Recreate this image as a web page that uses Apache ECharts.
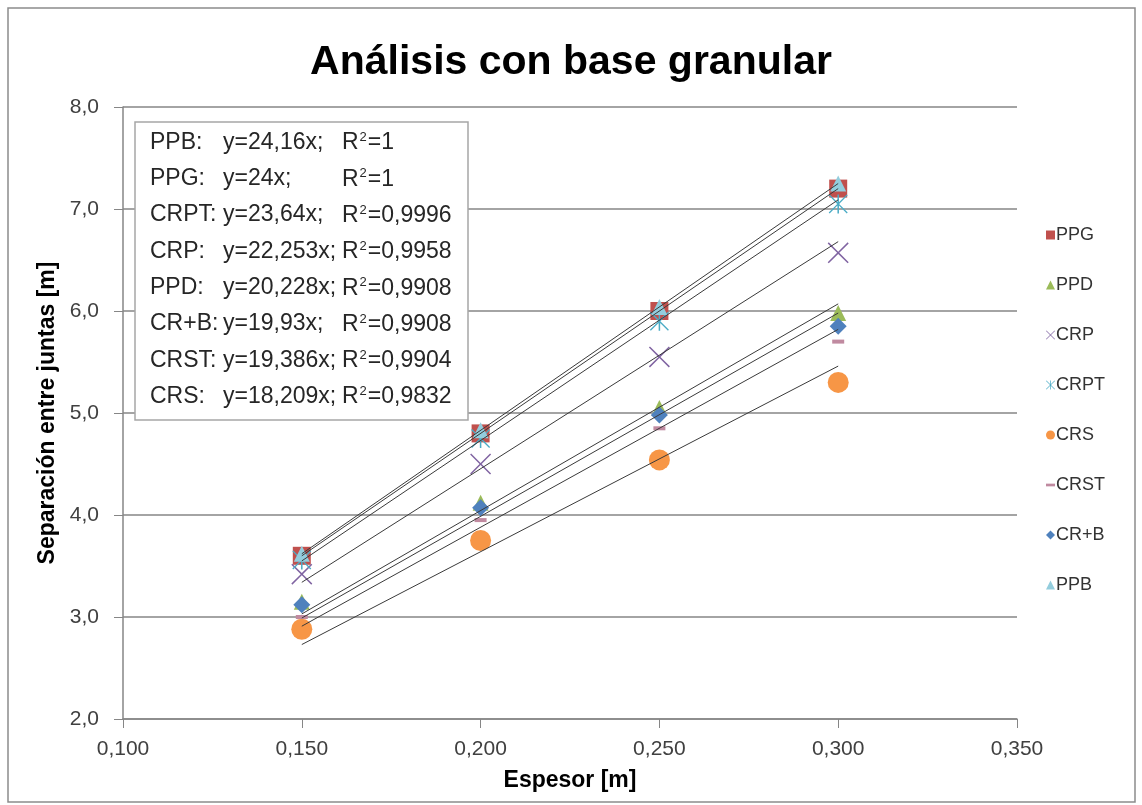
<!DOCTYPE html>
<html>
<head>
<meta charset="utf-8">
<title>Análisis con base granular</title>
<script src="https://cdn.jsdelivr.net/npm/echarts@6/dist/echarts.min.js"></script>
<style>
  html, body { margin: 0; padding: 0; background: #fff; }
  #myChart { width: 1142px; height: 805px; }
</style>
</head>
<body>
<div id="myChart"></div>
<script>
// espesores (m)
const espesor = [0.15, 0.20, 0.25, 0.30];

// separación entre juntas (m)
const PPG  = [3.60, 4.80, 6.00, 7.20];
const PPD  = [3.15, 4.12, 5.05, 5.98];
const CRP  = [3.42, 4.50, 5.55, 6.57];
const CRPT = [3.56, 4.75, 5.90, 7.05];
const CRS  = [2.88, 3.75, 4.54, 5.30];
const CRST = [3.00, 3.95, 4.85, 5.70];
const CRB  = [3.12, 4.07, 4.98, 5.85];
const PPB  = [3.62, 4.83, 6.04, 7.25];

// líneas de tendencia: valores en x = 0,150 y x = 0,300
const trendX     = [0.15, 0.30];
const trendPPB   = [3.62, 7.25];
const trendPPG   = [3.60, 7.20];
const trendCRPT  = [3.55, 7.09];
const trendCRP   = [3.34, 6.68];
const trendPPD   = [3.03, 6.07];
const trendCRB   = [2.99, 5.98];
const trendCRST  = [2.91, 5.82];
const trendCRS   = [2.73, 5.46];

// texto del recuadro de ecuaciones
const eqLabels = ['PPB:', 'PPG:', 'CRPT:', 'CRP:', 'PPD:', 'CR+B:', 'CRST:', 'CRS:'];
const eqFormulas = ['y=24,16x;', 'y=24x;', 'y=23,64x;', 'y=22,253x;', 'y=20,228x;', 'y=19,93x;', 'y=19,386x;', 'y=18,209x;'];
const eqR2 = ['1', '1', '0,9996', '0,9958', '0,9908', '0,9908', '0,9904', '0,9832'];

const xTicks = { min: 0.1, max: 0.35, interval: 0.05 };
const yTicks = { min: 2, max: 8, interval: 1 };

const xPath = 'path://M0,1L1,0L10,9L19,0L20,1L11,10L20,19L19,20L10,11L1,20L0,19L9,10Z';
const starPath = 'path://M0,1L1,0L10,9L19,0L20,1L11,10L20,19L19,20L10,11L1,20L0,19L9,10Z M9.2,0L10.8,0L10.8,20L9.2,20Z';
const dashPath = 'path://M0,0L10,0L10,3L0,3Z';

function pts(ys) { return espesor.map((x, i) => [x, ys[i]]); }
function line(ys) { return trendX.map((x, i) => [x, ys[i]]); }

let myChart = echarts.init(document.getElementById('myChart'));

let scatterDefs = [
  { name: 'PPG',  data: PPG,  symbol: 'rect',     size: 18, color: '#C0504D' },
  { name: 'PPD',  data: PPD,  symbol: 'triangle', size: 16, color: '#9BBB59' },
  { name: 'CRP',  data: CRP,  symbol: xPath,      size: 21, color: '#8064A2' },
  { name: 'CRPT', data: CRPT, symbol: starPath,   size: 19, color: '#4BACC6' },
  { name: 'CRS',  data: CRS,  symbol: 'circle',   size: 21, color: '#F79646' },
  { name: 'CRST', data: CRST, symbol: dashPath,   size: [12, 4], color: '#C08AA0' },
  { name: 'CR+B', data: CRB,  symbol: 'diamond',  size: 17, color: '#4F81BD' },
  { name: 'PPB',  data: PPB,  symbol: 'triangle', size: 16, color: '#93CDDD' }
];

let trends = [trendPPB, trendPPG, trendCRPT, trendCRP, trendPPD, trendCRB, trendCRST, trendCRS];

let series = scatterDefs.map(d => ({
  name: d.name,
  type: 'scatter',
  data: pts(d.data),
  symbol: d.symbol,
  symbolSize: d.size,
  itemStyle: { color: d.color, opacity: 1 }
}));

trends.forEach((t, i) => {
  series.push({
    name: 'tendencia ' + i,
    type: 'line',
    data: line(t),
    symbol: 'none',
    silent: true,
    z: 3,
    lineStyle: { color: '#3a3a3a', width: 1 }
  });
});

// recuadro de ecuaciones
let eqFont = '23px Arial, "Liberation Sans", sans-serif';
let measure = document.createElement('canvas').getContext('2d');
measure.font = eqFont;
function textW(s) { return measure.measureText(s).width; }

let eqGraphics = [{
  type: 'rect',
  shape: { x: 135, y: 122, width: 333, height: 298 },
  style: { fill: '#fff', stroke: '#a6a6a6', lineWidth: 1.5 },
  z: 100
}];
eqLabels.forEach((lab, i) => {
  let y = 143 + i * 36.3;
  let fx = Math.max(223, 150 + textW(lab) + 1);
  let rx = Math.max(342, fx + textW(eqFormulas[i]) - 1);
  eqGraphics.push({ type: 'text', left: 150, top: y - 12, z: 101,
    style: { text: lab, font: eqFont, fill: '#262626' } });
  eqGraphics.push({ type: 'text', left: fx, top: y - 12, z: 101,
    style: { text: eqFormulas[i], font: eqFont, fill: '#262626' } });
  eqGraphics.push({ type: 'text', left: rx, top: y - 12, z: 101,
    style: { text: '{a|R}{s|2}{a|=' + eqR2[i] + '}', fill: '#262626',
      rich: {
        a: { fontFamily: 'Arial', fontSize: 23, fill: '#262626' },
        s: { fontFamily: 'Arial', fontSize: 13, verticalAlign: 'top', padding: [0, 1, 11, 1], fill: '#262626' }
      } } });
});

let option = {
  backgroundColor: '#fff',
  animation: false,
  title: {
    text: 'Análisis con base granular',
    left: 'center',
    top: 37,
    textStyle: { fontFamily: 'Arial', fontSize: 41, fontWeight: 'bold', color: '#000' }
  },
  legend: {
    orient: 'vertical',
    left: 1041,
    top: 221,
    itemGap: 32,
    itemWidth: 9,
    itemHeight: 9,
    selectedMode: false,
    data: scatterDefs.map(d => d.name),
    textStyle: { fontFamily: 'Arial', fontSize: 18, color: '#333', padding: [0, 0, 0, -4] }
  },
  grid: { left: 123, right: 125, top: 107, bottom: 86 },
  xAxis: {
    type: 'value',
    min: xTicks.min,
    max: xTicks.max,
    interval: xTicks.interval,
    name: 'Espesor [m]',
    nameLocation: 'middle',
    nameGap: 50,
    nameTextStyle: { fontFamily: 'Arial', fontSize: 23, fontWeight: 'bold', color: '#000' },
    axisLine: { show: true, lineStyle: { color: '#868686', width: 1.5 } },
    axisTick: { show: true, inside: false, length: 9, lineStyle: { color: '#868686' } },
    axisLabel: { fontFamily: 'Arial', fontSize: 21, color: '#404040', margin: 20,
      formatter: v => v.toFixed(3).replace('.', ',') },
    splitLine: { show: false }
  },
  yAxis: {
    type: 'value',
    min: yTicks.min,
    max: yTicks.max,
    interval: yTicks.interval,
    name: 'Separación entre juntas [m]',
    nameLocation: 'middle',
    nameGap: 62,
    nameTextStyle: { fontFamily: 'Arial', fontSize: 23, fontWeight: 'bold', color: '#000' },
    axisLine: { show: true, lineStyle: { color: '#868686', width: 1.5 } },
    axisTick: { show: true, inside: false, length: 9, lineStyle: { color: '#868686' } },
    axisLabel: { fontFamily: 'Arial', fontSize: 21, color: '#404040', margin: 24,
      formatter: v => v.toFixed(1).replace('.', ',') },
    splitLine: { show: true, lineStyle: { color: '#868686', width: 1.5 } }
  },
  graphic: [{
    type: 'rect',
    shape: { x: 8, y: 8, width: 1127, height: 794 },
    style: { fill: 'none', stroke: '#8c8c8c', lineWidth: 1.5 },
    silent: true
  }].concat(eqGraphics),
  series: series
};

myChart.setOption(option);
</script>
</body>
</html>
